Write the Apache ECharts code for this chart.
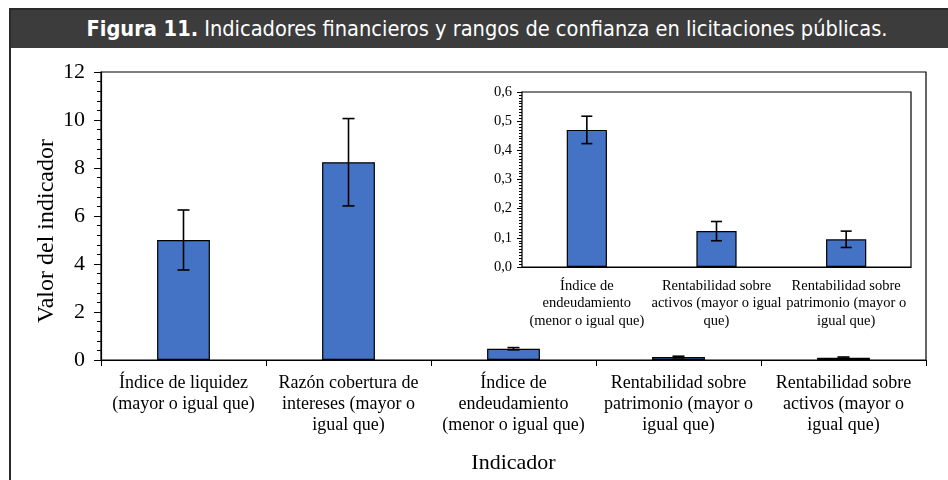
<!DOCTYPE html>
<html>
<head>
<meta charset="utf-8">
<script src="https://cdn.jsdelivr.net/npm/echarts@6/dist/echarts.min.js"></script>
<style>
  html, body { margin: 0; padding: 0; background: #fff; overflow: hidden; width: 948px; height: 480px; }
  #frame {
    position: absolute; left: 9px; top: 8px; width: 980px; height: 500px;
    border: 2px solid #2a2a2a; box-sizing: border-box;
  }
  #titlebar {
    position: absolute; left: 0; top: 0; width: 952px; height: 38px;
    background: #3c3c3c; color: #fff; text-align: center;
    font-family: "DejaVu Sans Condensed", "Liberation Sans Narrow", sans-serif;
    font-size: 21.6px; line-height: 38px;
  }
  #titlebar-fill { position: absolute; left: 952px; top: 0; right: 0; height: 38px; background: #3c3c3c; }
  #chart { position: absolute; left: 0; top: 0; width: 948px; height: 480px; }
</style>
</head>
<body>
<div id="frame">
  <div id="titlebar"><b>Figura 11.</b> Indicadores financieros y rangos de confianza en licitaciones públicas.</div>
  <div id="titlebar-fill"></div>
</div>
<div id="chart"></div>
<script>
// gráfico principal
const mainCategories = [
  'Índice de liquidez\n(mayor o igual que)',
  'Razón cobertura de\nintereses (mayor o\nigual que)',
  'Índice de\nendeudamiento\n(menor o igual que)',
  'Rentabilidad sobre\npatrimonio (mayor o\nigual que)',
  'Rentabilidad sobre\nactivos (mayor o\nigual que)'
];
const mainValues = [5.0, 8.24, 0.47, 0.125, 0.097];
const mainErrors = [1.25, 1.82, 0.047, 0.033, 0.028];
const mainTicks = [0, 2, 4, 6, 8, 10, 12];

// gráfico insertado (detalle)
const insetCategories = [
  'Índice de\nendeudamiento\n(menor o igual que)',
  'Rentabilidad sobre\nactivos (mayor o igual\nque)',
  'Rentabilidad sobre\npatrimonio (mayor o\nigual que)'
];
const insetValues = [0.47, 0.123, 0.095];
const insetErrors = [0.047, 0.033, 0.028];
const insetTicks = [0, 0.1, 0.2, 0.3, 0.4, 0.5, 0.6];

const serif = '"Liberation Serif", "Times New Roman", serif';
const barColor = '#4472C4';

const chart = echarts.init(document.getElementById('chart'));

const errorData = (vals, errs) => vals.map((v, i) => [i, v - errs[i], v + errs[i]]);

const errorBar = (capHalf) => (params, api) => {
  const x = api.value(0);
  const lo = api.coord([x, api.value(1)]);
  const hi = api.coord([x, api.value(2)]);
  const style = { stroke: '#000', lineWidth: 1.6 };
  return {
    type: 'group',
    children: [
      { type: 'line', shape: { x1: lo[0], y1: lo[1], x2: hi[0], y2: hi[1] }, style },
      { type: 'line', shape: { x1: hi[0] - capHalf, y1: hi[1], x2: hi[0] + capHalf, y2: hi[1] }, style },
      { type: 'line', shape: { x1: lo[0] - capHalf, y1: lo[1], x2: lo[0] + capHalf, y2: lo[1] }, style }
    ]
  };
};

const option = {
  backgroundColor: 'transparent',
  animation: false,
  grid: [
    { left: 101, top: 72, right: 22, bottom: 120, show: true, borderColor: '#000', borderWidth: 1.2, backgroundColor: 'transparent' },
    { left: 522, top: 92, right: 37, bottom: 213, show: true, borderColor: '#000', borderWidth: 1.2, backgroundColor: '#fff', z: 5 }
  ],
  xAxis: [
    {
      type: 'category', gridIndex: 0, data: mainCategories,
      name: 'Indicador', nameLocation: 'middle', nameGap: 92,
      nameTextStyle: { fontFamily: serif, fontSize: 22, color: '#000' },
      axisLine: { lineStyle: { color: '#000', width: 1.2 } },
      axisTick: { show: true, length: 6, lineStyle: { color: '#000' } },
      axisLabel: { interval: 0, fontFamily: serif, fontSize: 18, lineHeight: 21, color: '#000', margin: 13 }
    },
    {
      type: 'category', gridIndex: 1, data: insetCategories,
      axisLine: { lineStyle: { color: '#000', width: 1.2 } },
      axisTick: { show: false },
      axisLabel: { interval: 0, fontFamily: serif, fontSize: 14.5, lineHeight: 17.5, color: '#000', margin: 10 }
    }
  ],
  yAxis: [
    {
      type: 'value', gridIndex: 0, min: mainTicks[0], max: mainTicks[mainTicks.length - 1], interval: 2,
      name: 'Valor del indicador', nameLocation: 'middle', nameGap: 42, nameMoveOverlap: false,
      nameTextStyle: { fontFamily: serif, fontSize: 24, color: '#000', padding: [0, 30, 0, 0] },
      axisLine: { show: true, lineStyle: { color: '#000', width: 1.2 } },
      axisTick: { show: true, length: 7, lineStyle: { color: '#000' } },
      minorTick: { show: true, splitNumber: 5, length: 4, lineStyle: { color: '#000' } },
      splitLine: { show: false },
      axisLabel: { fontFamily: serif, fontSize: 22, color: '#000', margin: 16 }
    },
    {
      type: 'value', gridIndex: 1, min: insetTicks[0], max: insetTicks[insetTicks.length - 1], interval: 0.1,
      axisLine: { show: true, lineStyle: { color: '#000', width: 1.2 } },
      axisTick: { show: true, length: 5, lineStyle: { color: '#000' } },
      minorTick: { show: true, splitNumber: 10, length: 3, lineStyle: { color: '#000' } },
      splitLine: { show: false },
      axisLabel: { fontFamily: serif, fontSize: 14.5, color: '#000', margin: 10,
        formatter: v => v.toFixed(1).replace('.', ',') }
    }
  ],
  series: [
    {
      type: 'bar', xAxisIndex: 0, yAxisIndex: 0, data: mainValues, barWidth: '32%',
      itemStyle: { color: barColor, borderColor: '#000', borderWidth: 1.2 }
    },
    {
      type: 'custom', xAxisIndex: 0, yAxisIndex: 0, data: errorData(mainValues, mainErrors),
      renderItem: errorBar(6), z: 3
    },
    {
      type: 'bar', xAxisIndex: 1, yAxisIndex: 1, data: insetValues, barWidth: '31%',
      itemStyle: { color: barColor, borderColor: '#000', borderWidth: 1.2 }, z: 6
    },
    {
      type: 'custom', xAxisIndex: 1, yAxisIndex: 1, data: errorData(insetValues, insetErrors),
      renderItem: errorBar(5.5), z: 7
    }
  ]
};

chart.setOption(option);
</script>
</body>
</html>
